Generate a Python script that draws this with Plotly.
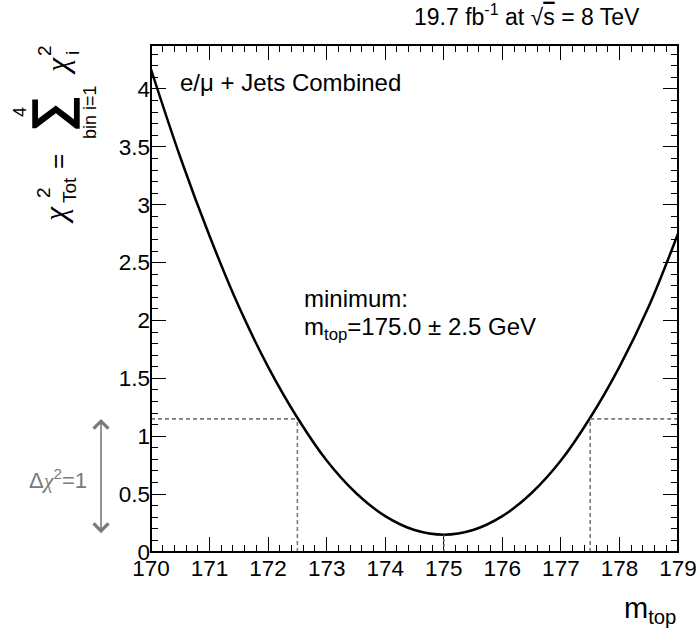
import plotly.graph_objects as go

# chi2 scan over the top-quark mass hypothesis
m_top = [170.0, 170.5, 171.0, 171.5, 172.0, 172.5, 173.0, 173.5, 174.0, 174.5,
         175.0, 175.5, 176.0, 176.5, 177.0, 177.5, 178.0, 178.5, 179.0]
chi2_tot = [4.17, 3.41, 2.73, 2.12, 1.60, 1.16, 0.79, 0.51, 0.31, 0.19,
            0.15, 0.19, 0.31, 0.51, 0.79, 1.16, 1.60, 2.12, 2.75]

# fit result
m_best = 175.0
m_err = 2.5
chi2_min = 0.15
delta_chi2 = 1.0

x_range = [170, 179]
y_range = [0, 4.38]

W_PX, H_PX = 697, 628
L, R, T, B = 151, 678, 45, 552


def px(x):
    return (x - L) / (R - L)


def py(y):
    return (B - y) / (B - T)


FONT = "Liberation Sans, Arial, Helvetica, sans-serif"
GREEK = "Liberation Serif, DejaVu Serif, serif"
GREY = "#7a7a7a"

fig = go.Figure()
fig.add_trace(go.Scatter(
    x=m_top, y=chi2_tot, mode="lines",
    line=dict(color="black", width=2.5, shape="spline", smoothing=1.0),
    hoverinfo="skip", showlegend=False,
))

chi2_1s = chi2_min + delta_chi2
lo, hi = m_best - m_err, m_best + m_err
dash = dict(color=GREY, width=1.6, dash="4px,3px")
shapes = [
    dict(type="line", xref="x", yref="y", x0=x_range[0], x1=lo, y0=chi2_1s, y1=chi2_1s, line=dash),
    dict(type="line", xref="x", yref="y", x0=hi, x1=x_range[1], y0=chi2_1s, y1=chi2_1s, line=dash),
    dict(type="line", xref="x", yref="y", x0=lo, x1=lo, y0=0, y1=chi2_1s, line=dash),
    dict(type="line", xref="x", yref="y", x0=hi, x1=hi, y0=0, y1=chi2_1s, line=dash),
    dict(type="line", xref="x", yref="y", x0=m_best, x1=m_best, y0=0, y1=chi2_min,
         line=dict(color="#555555", width=1.6, dash="3px,2px")),
    dict(type="rect", xref="paper", yref="paper", x0=0, x1=1, y0=0, y1=1,
         line=dict(color="black", width=2), layer="above"),
]

ann = []


def text(x, y, s, size, color="black", xanchor="center", yanchor="middle", angle=0,
         family=FONT, weight="normal"):
    ann.append(dict(x=px(x), y=py(y), xref="paper", yref="paper", text=s,
                    showarrow=False, xanchor=xanchor, yanchor=yanchor, textangle=angle,
                    font=dict(family=family, size=size, color=color, weight=weight)))


# header
text(642, 15, "19.7 fb<sup>-1</sup> at √<span style=\"text-decoration:overline\">s</span> = 8 TeV",
     23, xanchor="right")
# channel label
text(178, 82, "e/μ + Jets Combined", 24, xanchor="left")
# fit result
text(302, 298, "minimum:", 24, xanchor="left")
text(302, 328, f"m<sub>top</sub>={m_best:.1f} ± {m_err:.1f} GeV", 24, xanchor="left")
# x-axis title
text(678, 610, "m<sub>top</sub>", 29, xanchor="right")

# y-axis title: chi2_Tot = sum_{bin i=1}^{4} chi2_i (rotated)
text(55, 215, "<i>χ</i>", 32, angle=-90, family=GREEK)
text(43, 193, "2", 19, angle=-90)
text(69, 190, "Tot", 19, angle=-90)
text(58, 162, "=", 26, angle=-90)
text(50, 114, "∑", 52, angle=-90, weight="bold")
text(20, 112, "4", 18, angle=-90)
text(90, 112, "bin i=1", 18, angle=-90)
text(57, 66, "<i>χ</i>", 32, angle=-90, family=GREEK)
text(45, 51, "2", 19, angle=-90)
text(73, 53, "i", 19, angle=-90)

# delta chi2 = 1 marker
text(58, 479, "Δ<span style=\"font-family:Liberation Serif\"><i>χ</i></span><sup>2</sup>=1", 22, color=GREY)
ann.append(dict(x=px(101), y=chi2_1s, xref="paper", yref="y",
                ax=0, ay=chi2_min, axref="pixel", ayref="y", text="",
                showarrow=True, arrowhead=4, startarrowhead=4, arrowside="end+start",
                arrowsize=1.8, startarrowsize=1.8, arrowwidth=1.6, arrowcolor=GREY,
                standoff=0, startstandoff=0))

axis_common = dict(
    showgrid=False, zeroline=False, showline=False, automargin=False,
    ticks="inside", ticklen=15, tickwidth=1.2, tickcolor="black",
    mirror="ticks", ticklabeloverflow="allow",
    tickfont=dict(family=FONT, size=22.5, color="black"),
)

fig.update_layout(
    width=W_PX, height=H_PX,
    margin=dict(l=L, r=W_PX - R, t=T, b=H_PX - B, pad=0, autoexpand=False),
    paper_bgcolor="white", plot_bgcolor="white",
    shapes=shapes, annotations=ann,
    xaxis=dict(range=x_range, dtick=1, tick0=170,
               minor=dict(dtick=0.2, ticks="inside", ticklen=7, tickwidth=1.2, tickcolor="black"),
               **axis_common),
    yaxis=dict(range=y_range, dtick=0.5, tick0=0,
               minor=dict(dtick=0.1, ticks="inside", ticklen=7, tickwidth=1.2, tickcolor="black"),
               **axis_common),
)

fig.write_html("out.html")
